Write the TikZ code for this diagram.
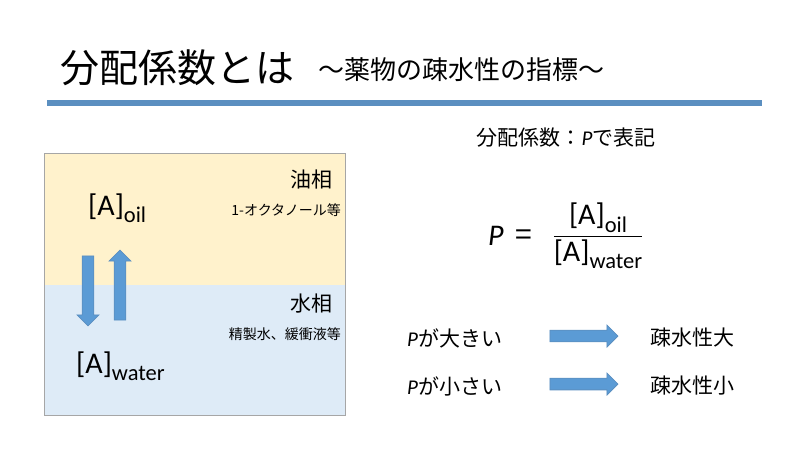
\documentclass[tikz,border=0pt]{standalone}
\usepackage{fontspec}
\setmainfont{Noto Sans CJK JP}
\newfontfamily\latinfont{Carlito}
\newcommand{\conc}[1]{{\latinfont[A]\raisebox{-.25em}{\fontsize{.75\dimexpr\fontdimen6\font}{1}\selectfont #1}}}
\usepackage{amsmath}
\usetikzlibrary{shapes.arrows}
\definecolor{barblue}{RGB}{91,143,192}
\definecolor{arrowblue}{RGB}{91,155,213}
\definecolor{oilfill}{RGB}{255,242,204}
\definecolor{waterfill}{RGB}{222,235,247}
\tikzset{
 blockarrow/.style={single arrow, fill=arrowblue, draw=barblue, line width=.8pt, minimum height=#1, minimum width=22pt, single arrow head extend=3pt, inner sep=3pt},
 label/.style={inner sep=0pt, anchor=west},
}
\begin{document}
\begin{tikzpicture}[x=1pt,y=-1pt]
\useasboundingbox (0,0) rectangle (800,450);
% title
\node[label] (title) at (60,68) {\fontsize{39}{44}\selectfont 分配係数とは};
\node[label] (subtitle) at (318,70) {\fontsize{26}{30}\selectfont ～薬物の疎水性の指標～};
\fill[barblue] (47,100) rectangle (762,106);
% phases
\fill[oilfill] (44,153) rectangle (345,285);
\fill[waterfill] (44,285) rectangle (345,415);
\draw[gray!70, line width=.8pt] (44,153) rectangle (345,415);
\node[inner sep=0pt, anchor=east] (oil) at (333,180) {\fontsize{21}{24}\selectfont 油相};
\node[inner sep=0pt, anchor=east] (octanol) at (341,210) {\fontsize{14}{16}\selectfont 1-オクタノール等};
\node[inner sep=0pt, anchor=east] (water) at (333,304) {\fontsize{21}{24}\selectfont 水相};
\node[inner sep=0pt, anchor=east] (buffer) at (341,334) {\fontsize{14}{16}\selectfont 精製水、緩衝液等};
\node[label] (aoil) at (88,208) {\fontsize{30}{34}\selectfont\conc{oil}};
\node[label] (awater) at (76,366) {\fontsize{30}{34}\selectfont\conc{water}};
\node[blockarrow=70pt, shape border rotate=270] (down) at (88,288) {};
\node[blockarrow=70pt, shape border rotate=90] (up) at (120,288) {};
% right side
\node (defn) at (566,138) {\fontsize{21}{24}\selectfont 分配係数：{\latinfont\itshape P}で表記};
\node[label] (pvar) at (488,236) {\fontsize{30}{34}\selectfont{\latinfont\itshape P} \,=};
\node (frac) at (598,236) {\fontsize{30}{34}\selectfont
 $\dfrac{\text{\conc{oil}}}{\text{\conc{water}}}$};
\node[label] (large) at (407,338) {\fontsize{21}{24}\selectfont{\latinfont\itshape P}が大きい};
\node[label] (small) at (407,386) {\fontsize{21}{24}\selectfont{\latinfont\itshape P}が小さい};
\node[blockarrow=68pt] (arr1) at (581,336) {};
\node[blockarrow=68pt] (arr2) at (581,384) {};
\node[label] (hydrophobicL) at (650,338) {\fontsize{21}{24}\selectfont 疎水性大};
\node[label] (hydrophobicS) at (650,386) {\fontsize{21}{24}\selectfont 疎水性小};
\end{tikzpicture}
\end{document}
